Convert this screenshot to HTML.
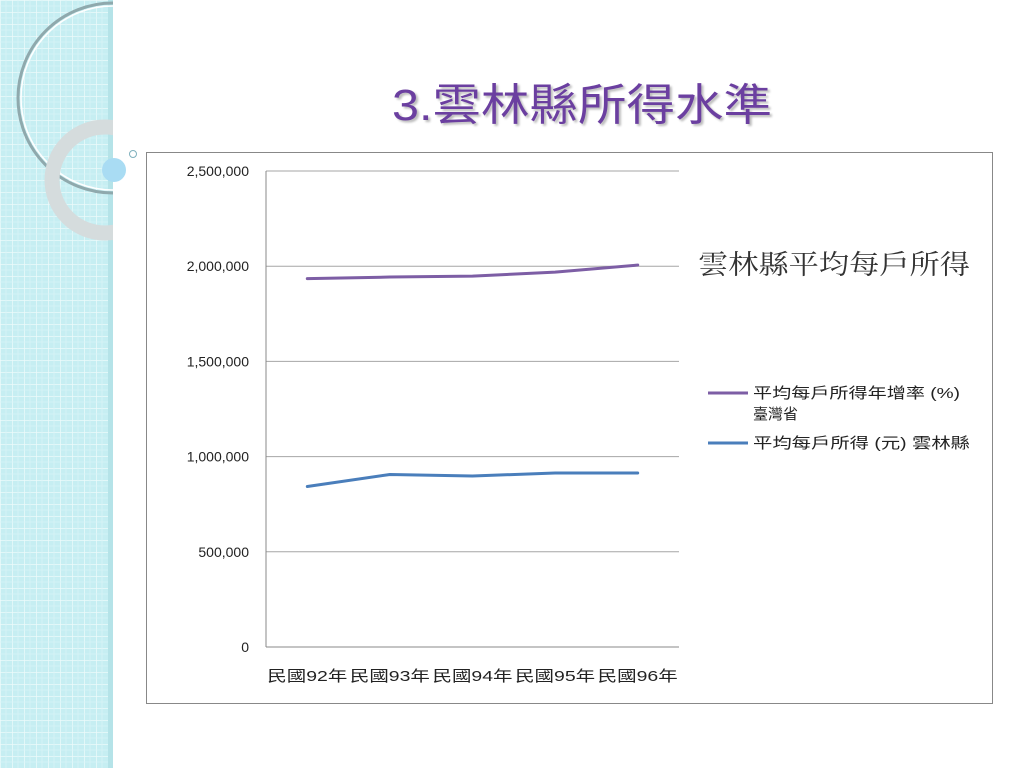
<!DOCTYPE html>
<html><head><meta charset="utf-8"><style>
html,body{margin:0;padding:0;width:1024px;height:768px;overflow:hidden;background:#fff}
body{position:relative;font-family:"Liberation Sans","Noto Sans CJK TC",sans-serif}
</style></head><body>
<svg width="1024" height="768" viewBox="0 0 1024 768" xmlns="http://www.w3.org/2000/svg">
<defs>
<pattern id="grid" width="12" height="12" patternUnits="userSpaceOnUse">
<rect width="12" height="12" fill="#c6eef2"/>
<path d="M0 0H12M0 0V12" stroke="#ecfafb" stroke-width="1.5"/>
<path d="M6 0V12M0 6H12" stroke="#d8f4f6" stroke-width="0.8"/>
</pattern>
<clipPath id="strip"><rect x="0" y="0" width="113" height="768"/></clipPath>
</defs>
<g>
<rect x="0" y="0" width="113" height="768" fill="url(#grid)"/>
<rect x="108" y="0" width="5" height="768" fill="#b5e3e8"/>
<g clip-path="url(#strip)">
<circle cx="113" cy="98" r="95" fill="none" stroke="#8fa9ad" stroke-width="3"/>
<circle cx="113" cy="98" r="92" fill="none" stroke="#fff" stroke-width="1.5"/>
<circle cx="105" cy="180" r="53" fill="none" stroke="#d5dcdd" stroke-width="15"/>
</g>
<circle cx="114" cy="170" r="12" fill="#a9dcf3"/>
<circle cx="133" cy="154" r="3.5" fill="#fff" stroke="#7fb0bd" stroke-width="1"/>
</g>
<text x="392" y="120" font-size="44" fill="#6b3fa0" textLength="380" lengthAdjust="spacingAndGlyphs" style="text-shadow:2px 2px 2px #bbb">3.雲林縣所得水準</text>
<rect x="146.5" y="152.5" width="846" height="551" fill="#fff" stroke="#888" stroke-width="1"/>
<g id="chart"></g>
<text x="698" y="274" font-size="27" fill="#333" font-family="'Noto Serif CJK SC',serif" textLength="272" lengthAdjust="spacingAndGlyphs">雲林縣平均每戶所得</text>
<g>
<line x1="708" y1="393" x2="748" y2="393" stroke="#7d5ea5" stroke-width="3"/>
<text x="753" y="398" font-size="15" fill="#222" textLength="207" lengthAdjust="spacingAndGlyphs">平均每戶所得年增率 (%)</text>
<text x="753" y="419" font-size="15" fill="#222">臺灣省</text>
<line x1="708" y1="443" x2="748" y2="443" stroke="#4a7ebb" stroke-width="3"/>
<text x="753" y="448" font-size="15" fill="#222" textLength="217" lengthAdjust="spacingAndGlyphs">平均每戶所得 (元) 雲林縣</text>
</g>
</svg>
<script>
const categories=["民國92年","民國93年","民國94年","民國95年","民國96年"];
const taiwanValues=[1935000,1943000,1948000,1969000,2006000];
const yunlinValues=[843000,906000,898000,914000,914000];
const yTicks=[0,500000,1000000,1500000,2000000,2500000];
const yTickLabels=["0","500,000","1,000,000","1,500,000","2,000,000","2,500,000"];
const NS="http://www.w3.org/2000/svg";
const g=document.getElementById("chart");
const x0=266,x1=679,y0=647,y1=171,yMax=2500000;
const yScale=v=>y0-(v/yMax)*(y0-y1);
const xScale=i=>x0+(i+0.5)*(x1-x0)/categories.length;
function mk(tag,attrs){const e=document.createElementNS(NS,tag);for(const k in attrs)e.setAttribute(k,attrs[k]);g.appendChild(e);return e;}
yTicks.forEach((t,i)=>{
 const y=yScale(t);
 if(t>0){const l=mk("line",{x1:x0,x2:x1,y1:y,y2:y,stroke:"#a6a6a6","stroke-width":1});
 
 }
 const tx=mk("text",{x:249,y:y+5,"font-size":14,fill:"#222","text-anchor":"end"});
 tx.textContent=yTickLabels[i];
 
 
});
const ax=mk("line",{x1:x0,x2:x0,y1:y1,y2:y0,stroke:"#888","stroke-width":1});


const bx=mk("line",{x1:x0,x2:x1,y1:y0,y2:y0,stroke:"#888","stroke-width":1});


categories.forEach((c,i)=>{
 const t=mk("text",{x:xScale(i)-40,y:681,"font-size":15,fill:"#222",textLength:80,lengthAdjust:"spacingAndGlyphs"});
 t.textContent=c;
 
 
});
function series(vals,color,name){
 const p=mk("polyline",{points:vals.map((v,i)=>xScale(i)+","+yScale(v)).join(" "),fill:"none",stroke:color,"stroke-width":3,"stroke-linejoin":"round","stroke-linecap":"round"});
 
 
}
series(taiwanValues,"#7d5ea5","line-taiwan");
series(yunlinValues,"#4a7ebb","line-yunlin");
</script>
</body></html>
